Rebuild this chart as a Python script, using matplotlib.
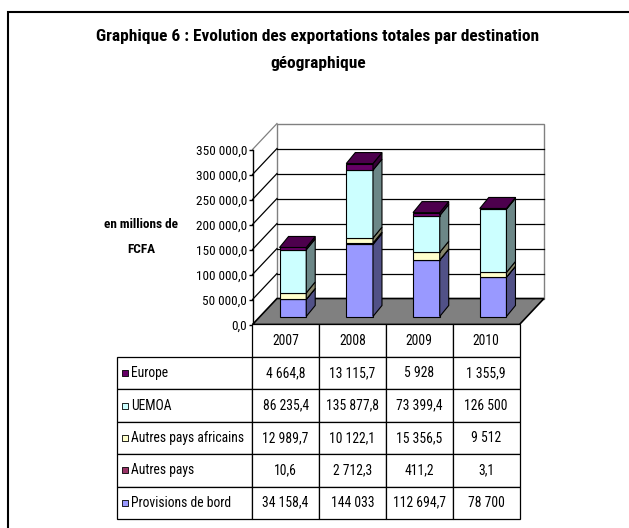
import matplotlib
matplotlib.use("Agg")
import matplotlib.pyplot as plt
from matplotlib.patches import Polygon, Rectangle
from matplotlib.table import Table
from matplotlib.ticker import FuncFormatter
import numpy as np

plt.rcParams['font.family'] = ['Roboto Condensed', 'Liberation Sans', 'DejaVu Sans']

years = ['2007', '2008', '2009', '2010']
# bottom -> top of each stacked bar
series = ['Provisions de bord', 'Autres pays', 'Autres pays africains', 'UEMOA', 'Europe']
provisions = [34158.4, 144033, 112694.7, 78700]
autres_pays = [10.6, 2712.3, 411.2, 3.1]
autres_afr = [12989.7, 10122.1, 15356.5, 9512]
uemoa = [86235.4, 135877.8, 73399.4, 126500]
europe = [4664.8, 13115.7, 5928, 1355.9]
values = [provisions, autres_pays, autres_afr, uemoa, europe]
colors = ['#9999FF', '#993366', '#FFFFCC', '#CCFFFF', '#660066']
yticks = np.arange(0, 350001, 50000)


def shade(c, f):
    r, g, b = matplotlib.colors.to_rgb(c)
    return (r * f, g * f, b * f)


def fr(v):
    if float(v).is_integer():
        return f"{int(v):,}".replace(",", " ")
    return f"{v:,.1f}".replace(",", " ").replace(".", ",")


W, H = 629, 528
fig = plt.figure(figsize=(W / 100, H / 100), dpi=100)

# outer frame (open on the right / bottom, cut by the image)
fig.patches.append(Rectangle((8 / W, -0.1), 1.2, (H - 12) / H + 0.1, transform=fig.transFigure,
                             fill=False, ec='black', lw=1.5))

fig.text(318 / W, 1 - 37 / H, "Graphique 6 : Evolution des exportations totales par destination",
         ha='center', va='center', fontsize=12.5, fontweight='bold')
fig.text(318 / W, 1 - 63 / H, "géographique", ha='center', va='center', fontsize=12.5, fontweight='bold')
fig.text(141 / W, 1 - 224 / H, "en millions de", ha='center', va='center', fontsize=9.5, fontweight='bold')
fig.text(141 / W, 1 - 249 / H, "FCFA", ha='center', va='center', fontsize=9.5, fontweight='bold')

# front plane of the 3D chart
ax = fig.add_axes([252.5 / W, (H - 324.5) / H, 267 / W, 175 / H])
ax.set_xlim(0, 4)
ax.set_ylim(0, 350000)
kx = 4 / 267.0        # data units per pixel
ky = 350000 / 175.0
wx, wy = 24.5 * kx, 26 * ky   # depth of the whole plot
fx, fy = 7 * kx, 8 * ky       # front face of the bars
dx, dy = 9 * kx, 11 * ky      # depth of the bars
bw = 0.4

for s in ['top', 'right', 'bottom']:
    ax.spines[s].set_visible(False)
ax.spines['left'].set_linewidth(1)
ax.set_xticks([])
ax.set_yticks(yticks)
ax.yaxis.set_major_formatter(FuncFormatter(lambda v, p: f"{v:,.1f}".replace(",", " ").replace(".", ",")))
ax.tick_params(axis='y', length=3, width=1, pad=1, labelsize=9.5)
ax.patch.set_visible(False)

# back wall + floor
ax.add_patch(Polygon([(wx, wy), (4 + wx, wy), (4 + wx, 350000 + wy), (wx, 350000 + wy)],
                     closed=True, fc='white', ec='#808080', lw=1, zorder=0.5, clip_on=False))
for y in yticks[1:-1]:
    ax.plot([wx, 4 + wx], [y + wy, y + wy], color='black', lw=0.9, zorder=0.6, clip_on=False)
for y in yticks[1:]:
    ax.plot([0, wx], [y, y + wy], color='black' if y < 350000 else '#808080', lw=0.9,
            zorder=0.6, clip_on=False)
ax.add_patch(Polygon([(0, 0), (4, 0), (4 + wx, wy), (wx, wy)], closed=True,
                     fc='#808080', ec='black', lw=1.2, zorder=1, clip_on=False))

# stacked 3D bars
x = np.arange(4) + 0.5
bottoms = np.zeros(4)
for k, (vals, c) in enumerate(zip(values, colors)):
    vals = np.array(vals)
    ax.bar(x - bw / 2 + fx, vals, width=bw, bottom=bottoms + fy, align='edge', color=c,
           ec='black', lw=0.8, zorder=3, clip_on=False)
    for i in range(4):
        xr = x[i] + bw / 2 + fx
        b0, b1 = bottoms[i] + fy, bottoms[i] + vals[i] + fy
        ax.add_patch(Polygon([(xr, b0), (xr + dx, b0 + dy), (xr + dx, b1 + dy), (xr, b1)], closed=True,
                             fc=shade(c, 0.53), ec='black', lw=0.8, zorder=3, clip_on=False))
        if k == len(values) - 1:
            xl = x[i] - bw / 2 + fx
            ax.add_patch(Polygon([(xl, b1), (xr, b1), (xr + dx, b1 + dy), (xl + dx, b1 + dy)], closed=True,
                                 fc=shade(c, 0.75), ec='black', lw=0.8, zorder=3, clip_on=False))
    bottoms = bottoms + vals

# data table
tax = fig.add_axes([117 / W, (H - 519) / H, 402.5 / W, 194.5 / H])
tax.axis('off')
tbl = Table(tax, bbox=[0, 0, 1, 1])
widths = [135] + [66.75] * 4
rh = 1.0
for j, yr in enumerate(years):
    tbl.add_cell(0, j + 1, widths[j + 1], rh, text=yr, loc='center')
order = list(range(len(series)))[::-1]
for r, k in enumerate(order):
    tbl.add_cell(r + 1, 0, widths[0], rh, text=series[k], loc='left')
    for j in range(4):
        tbl.add_cell(r + 1, j + 1, widths[j + 1], rh, text=fr(values[k][j]), loc='center')
tbl.auto_set_font_size(False)
tbl.set_fontsize(9.8)
for (r, c), cell in tbl.get_celld().items():
    cell.set_edgecolor('black')
    cell.set_linewidth(0.9)
    if c == 0:
        cell.PAD = 0.105
tax.add_table(tbl)
for r, k in enumerate(order):
    tax.scatter([7.5 / 402.5], [(len(series) - r - 0.5) / 6], marker='s', s=24, c=colors[k],
                edgecolors='black', linewidths=0.6, transform=tax.transAxes, clip_on=False, zorder=5)

fig.savefig('out.png', dpi=100)
